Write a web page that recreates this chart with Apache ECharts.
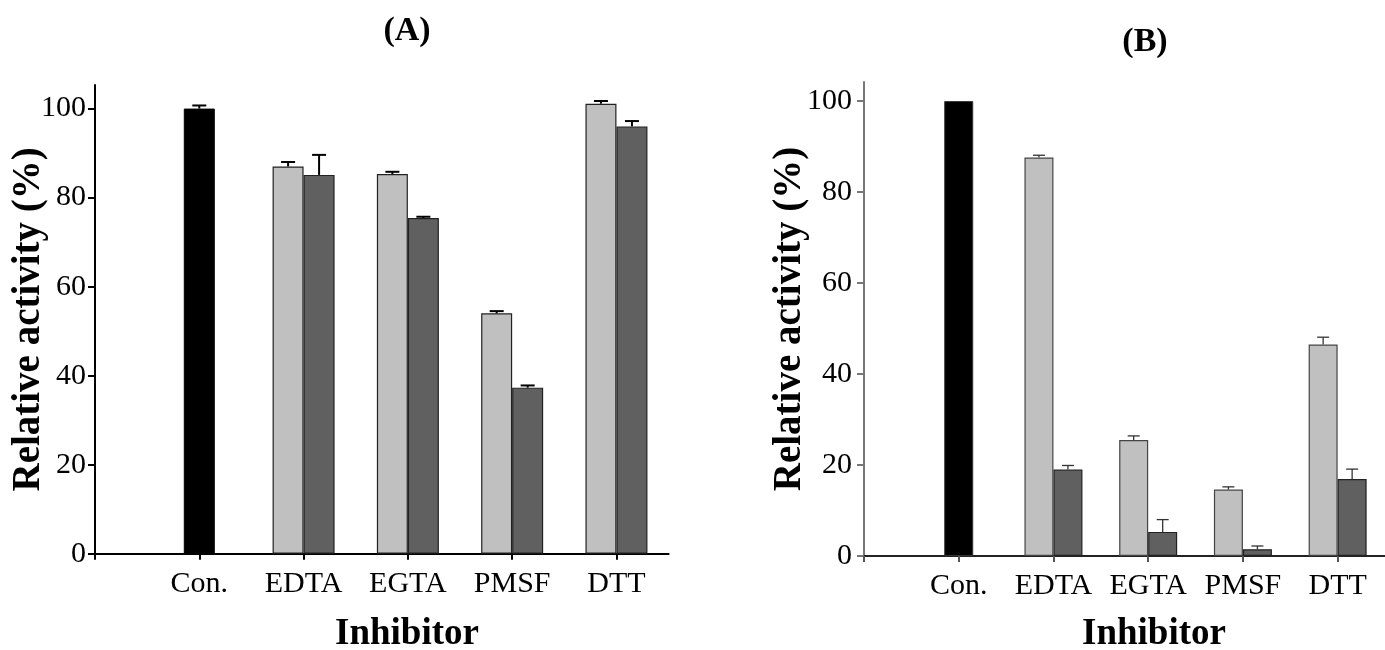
<!DOCTYPE html>
<html><head><meta charset="utf-8">
<script src="https://cdn.jsdelivr.net/npm/echarts@6/dist/echarts.min.js"></script>
<style>html,body{margin:0;padding:0;background:#fff}#c{width:1385px;height:650px}</style>
</head><body><div id="c"></div>
<script>
// ---- data ----
const categories = ["Con.", "EDTA", "EGTA", "PMSF", "DTT"];
const catPos = [1, 2, 3, 4, 5];
const inhPos = [2, 3, 4, 5];
const yTicks = [0, 20, 40, 60, 80, 100];
const xTicks = [0, 1, 2, 3, 4, 5];

const controlA = [100.0];  const controlAErr = [0.7];
const lightA = [87.0, 85.3, 54.0, 101.1]; const lightAErr = [1.0, 0.5, 0.5, 0.6];
const darkA  = [85.1, 75.4, 37.3, 96.0];  const darkAErr  = [4.5, 0.3, 0.5, 1.2];

const controlB = [100.0];  const controlBErr = [0];
const lightB = [87.6, 25.5, 14.6, 46.5]; const lightBErr = [0.5, 0.9, 0.6, 1.6];
const darkB  = [19.0, 5.3, 1.5, 16.9];   const darkBErr  = [0.9, 2.7, 0.7, 2.2];

// ---- chart ----
const FONT = 'Liberation Serif';
const chart = echarts.init(document.getElementById('c'), null, {renderer: 'canvas'});

function pts(xs, ys) { return xs.map((x, i) => [x, ys[i]]); }
function errPts(xs, ys, es) { return xs.map((x, i) => [x, ys[i], es[i]]); }

function errSeries(xi, yi, data, offset, cap, lw, color) {
  return {
    type: 'custom', xAxisIndex: xi, yAxisIndex: yi, clip: false, z: 5,
    encode: {x: 0, y: 1}, data: data,
    renderItem: function (params, api) {
      const x = api.value(0), v = api.value(1), e = api.value(2);
      if (!e) return null;
      const p0 = api.coord([x, v]), p1 = api.coord([x, v + e]);
      const cx = p0[0] + offset;
      return {type: 'group', children: [
        {type: 'line', shape: {x1: cx, y1: p0[1], x2: cx, y2: p1[1]}, style: {stroke: color, lineWidth: lw}},
        {type: 'line', shape: {x1: cx - cap / 2, y1: p1[1], x2: cx + cap / 2, y2: p1[1]}, style: {stroke: color, lineWidth: lw}}
      ]};
    }
  };
}

function xAxisVisible(gi, max, lineColor, tickColor) {
  return {
    type: 'value', gridIndex: gi, min: 0, max: max, interval: 1,
    splitLine: {show: false},
    axisLine: {onZero: false, lineStyle: {color: lineColor, width: 2}},
    axisTick: {customValues: xTicks, length: 6, lineStyle: {color: tickColor, width: 2}},
    axisLabel: {customValues: catPos, formatter: v => categories[Math.round(v) - 1] || '',
      fontFamily: FONT, fontSize: 30, color: '#000', margin: 15}
  };
}
function xAxisHidden(gi, max) {
  return {type: 'value', gridIndex: gi, min: 0, max: max, show: false, splitLine: {show: false}};
}
function yAxis(gi, max, lineColor, margin, gap) {
  return {
    type: 'value', gridIndex: gi, min: 0, max: max, interval: 20,
    splitLine: {show: false},
    axisLine: {show: true, onZero: false, lineStyle: {color: lineColor, width: 2}},
    axisTick: {show: true, customValues: yTicks, length: 7, lineStyle: {color: lineColor, width: 2}},
    axisLabel: {customValues: yTicks, fontFamily: FONT, fontSize: 30, color: '#000', margin: margin},
    name: 'Relative activity (%)', nameLocation: 'middle', nameRotate: 90, nameGap: gap,
    nameMoveOverlap: false,
    nameTextStyle: {fontFamily: FONT, fontSize: 39, fontWeight: 'bold', color: '#000'}
  };
}

const BW_A = 31, BW_B = 29;

const option = {
  backgroundColor: '#fff',
  animation: false,
  grid: [
    {left: 95, top: 85, width: 573.6, height: 468.7},
    {left: 864, top: 82, width: 529, height: 474}
  ],
  xAxis: [
    xAxisVisible(0, 5.5, '#000', '#000'),
    xAxisHidden(0, 5.5),
    xAxisVisible(1, 5.5, '#222', '#555'),
    xAxisHidden(1, 5.5)
  ],
  yAxis: [
    yAxis(0, 105.3, '#000', 9, 47),
    yAxis(1, 104.2, '#777', 12, 55)
  ],
  graphic: [
    {type: 'text', x: 407, y: 31, style: {text: '(A)', font: 'bold 34px "Liberation Serif"', fill: '#000', textAlign: 'center', textVerticalAlign: 'middle'}},
    {type: 'text', x: 1145, y: 42, style: {text: '(B)', font: 'bold 34px "Liberation Serif"', fill: '#000', textAlign: 'center', textVerticalAlign: 'middle'}},
    {type: 'text', x: 407, y: 634, style: {text: 'Inhibitor', font: 'bold 37px "Liberation Serif"', fill: '#000', textAlign: 'center', textVerticalAlign: 'middle'}},
    {type: 'text', x: 1154, y: 634, style: {text: 'Inhibitor', font: 'bold 37px "Liberation Serif"', fill: '#000', textAlign: 'center', textVerticalAlign: 'middle'}}
  ],
  series: [
    // Panel A
    {type: 'bar', xAxisIndex: 0, yAxisIndex: 0, barWidth: BW_A, data: pts([1], controlA),
      itemStyle: {color: '#000', borderColor: '#000', borderWidth: 1}},
    {type: 'bar', xAxisIndex: 1, yAxisIndex: 0, barWidth: BW_A, barGap: '0%', data: pts(inhPos, lightA),
      itemStyle: {color: '#c0c0c0', borderColor: '#222', borderWidth: 1.2}},
    {type: 'bar', xAxisIndex: 1, yAxisIndex: 0, barWidth: BW_A, barGap: '0%', data: pts(inhPos, darkA),
      itemStyle: {color: '#606060', borderColor: '#222', borderWidth: 1.2}},
    errSeries(0, 0, errPts([1], controlA, controlAErr), 0, 14, 2, '#000'),
    errSeries(0, 0, errPts(inhPos, lightA, lightAErr), -BW_A / 2, 14, 2, '#000'),
    errSeries(0, 0, errPts(inhPos, darkA, darkAErr), BW_A / 2, 14, 2, '#000'),
    // Panel B
    {type: 'bar', xAxisIndex: 2, yAxisIndex: 1, barWidth: BW_B, data: pts([1], controlB),
      itemStyle: {color: '#000', borderColor: '#333', borderWidth: 1}},
    {type: 'bar', xAxisIndex: 3, yAxisIndex: 1, barWidth: BW_B, barGap: '0%', data: pts(inhPos, lightB),
      itemStyle: {color: '#c0c0c0', borderColor: '#444', borderWidth: 1.2}},
    {type: 'bar', xAxisIndex: 3, yAxisIndex: 1, barWidth: BW_B, barGap: '0%', data: pts(inhPos, darkB),
      itemStyle: {color: '#606060', borderColor: '#222', borderWidth: 1.2}},
    errSeries(2, 1, errPts([1], controlB, controlBErr), 0, 12, 1.3, '#333'),
    errSeries(2, 1, errPts(inhPos, lightB, lightBErr), -BW_B / 2, 12, 1.3, '#333'),
    errSeries(2, 1, errPts(inhPos, darkB, darkBErr), BW_B / 2, 12, 1.3, '#333')
  ]
};
chart.setOption(option);
</script></body></html>
